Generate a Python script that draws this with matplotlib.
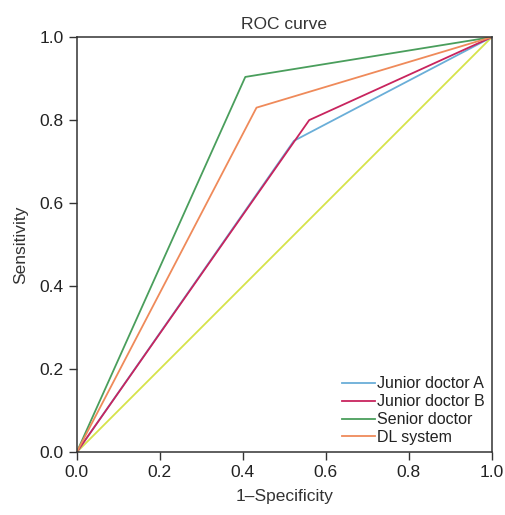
import numpy as np
import matplotlib
matplotlib.use('Agg')
import matplotlib.pyplot as plt

plt.rcParams['font.family'] = ['Liberation Sans', 'DejaVu Sans']

names = ['Junior doctor A', 'Junior doctor B', 'Senior doctor', 'DL system']
fpr = [[0, 0.523, 1], [0, 0.560, 1], [0, 0.406, 1], [0, 0.433, 1]]
tpr = [[0, 0.75, 1], [0, 0.80, 1], [0, 0.904, 1], [0, 0.830, 1]]
colors = ['#6aaed8', '#c8245e', '#4a9e5c', '#ef8a5a']
ticks = [0.0, 0.2, 0.4, 0.6, 0.8, 1.0]

fig = plt.figure(figsize=(5.05, 5.15), dpi=100)
ax = fig.add_axes([0.152, 0.122, 0.822, 0.806])

ax.plot([0, 1], [0, 1], color='#d6e34a', linewidth=1.3)
for n, x, y, c in zip(names, fpr, tpr, colors):
	ax.plot(x, y, color=c, linewidth=1.3, label=n)

ax.set_xlim(0, 1)
ax.set_ylim(0, 1)
ax.set_xticks(ticks)
ax.set_yticks(ticks)
ax.set_xticklabels(['%.1f' % t for t in ticks])
ax.set_yticklabels(['%.1f' % t for t in ticks])
ax.tick_params(axis='both', direction='out', length=6, width=1, labelsize=12.5, colors='#333333')
ax.tick_params(axis='both', labelcolor='#222222')
for s in ax.spines.values():
	s.set_linewidth(1.1)
	s.set_color('#333333')

ax.set_title('ROC curve', fontsize=12.5, color='#333333', pad=6)
ax.set_xlabel('1\u2013Specificity', fontsize=12.5, color='#333333', labelpad=6)
ax.set_ylabel('Sensitivity', fontsize=12.5, color='#333333', labelpad=8)

leg = ax.legend(loc='lower right', frameon=False, fontsize=11.5, handlelength=2.1,
	handletextpad=0.1, labelspacing=0.18, borderaxespad=0.05)
for t in leg.get_texts():
	t.set_color('#222222')

fig.savefig('out.png', dpi=100)
